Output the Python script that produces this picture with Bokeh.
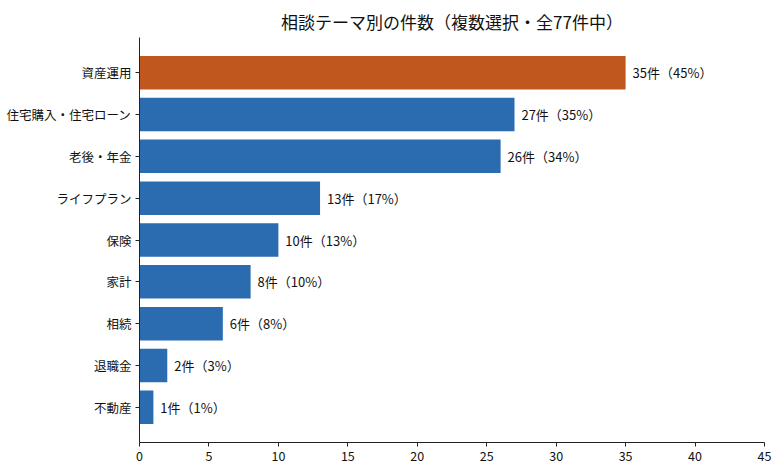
from bokeh.plotting import figure
from bokeh.models import ColumnDataSource, FixedTicker, Range1d
from bokeh.core.properties import value
from bokeh.embed import file_html
from bokeh.resources import INLINE

FONT = "Noto Sans CJK JP"

# Consultation themes, listed from the bottom of the chart to the top
themes = ["不動産", "退職金", "相続", "家計", "保険", "ライフプラン",
          "老後・年金", "住宅購入・住宅ローン", "資産運用"]
counts = [1, 2, 6, 8, 10, 13, 26, 27, 35]
percents = [1, 3, 8, 10, 13, 17, 34, 35, 45]
highlight = "資産運用"
x_ticks = [0, 5, 10, 15, 20, 25, 30, 35, 40, 45]

colors = ["#c0571f" if t == highlight else "#2b6cb0" for t in themes]
labels = [f"{c}件（{p}%）" for c, p in zip(counts, percents)]

src = ColumnDataSource(dict(
    theme=themes, count=counts, color=colors, label=labels,
    label_x=[c + 0.5 for c in counts],
))

p = figure(
    width=780, height=473,
    y_range=themes, x_range=Range1d(0, 45),
    output_backend="svg", toolbar_location=None,
    min_border_left=139, min_border_right=16,
    min_border_top=37, min_border_bottom=31,
)
p.y_range.range_padding = 0.68 / 9

p.hbar(y="theme", right="count", left=0, height=0.8, color="color",
       line_color=None, source=src)

p.text(x="label_x", y="theme", text="label", source=src,
       text_font=value(FONT), text_font_size="13px",
       text_baseline="middle", text_align="left", text_color="#111111")

# Title
p.title.text = "相談テーマ別の件数（複数選択・全77件中）"
p.title.align = "center"
p.title.text_font = FONT
p.title.text_font_size = "17px"
p.title.text_font_style = "normal"
p.title.text_color = "#111111"
p.title.offset = 0
p.title.standoff = 8

# Frame: only left and bottom spines
p.outline_line_color = None
p.xgrid.visible = False
p.ygrid.visible = False
p.background_fill_color = "white"
p.border_fill_color = "white"

p.xaxis.ticker = FixedTicker(ticks=x_ticks)
for ax in (p.xaxis, p.yaxis):
    ax.axis_line_color = "#222222"
    ax.axis_line_width = 1
    ax.major_tick_line_color = "#222222"
    ax.major_tick_out = 4
    ax.major_tick_in = 0
    ax.minor_tick_line_color = None
    ax.major_label_text_font = FONT
    ax.major_label_text_font_size = "12.5px"
    ax.major_label_text_color = "#111111"
    ax.major_label_standoff = 4

open("out.html", "w").write(file_html(p, INLINE))
